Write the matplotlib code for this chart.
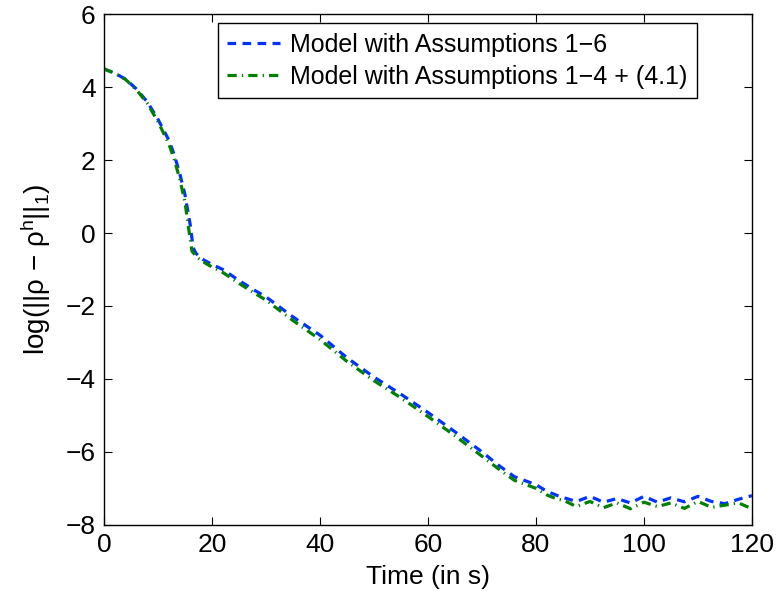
import numpy as np
import matplotlib
matplotlib.use("Agg")
import matplotlib.pyplot as plt

plt.rcParams["font.family"] = ["Liberation Sans", "DejaVu Sans"]
plt.rcParams["mathtext.fontset"] = "custom"
plt.rcParams["mathtext.rm"] = "Liberation Sans"
plt.rcParams["mathtext.it"] = "Liberation Sans"

# -- data --
t_a = [0, 2, 4, 6, 8, 10, 12, 13, 14, 15, 16, 16.5, 17, 18, 20, 22, 25, 28, 30,
       35, 40, 45, 50, 55, 60, 65, 70, 73, 76, 80, 82, 84,
       85, 87.5, 90, 92.5, 95, 97.5, 100, 102.5, 105, 107.5, 110, 112.5, 115, 117.5, 120]
err_a = [4.50, 4.38, 4.22, 3.95, 3.60, 3.12, 2.55, 2.15, 1.65, 1.05, 0.20, -0.40, -0.55,
         -0.70, -0.86, -1.00, -1.30, -1.58, -1.75,
         -2.30, -2.80, -3.42, -3.95, -4.42, -4.92, -5.45, -6.00, -6.36, -6.68, -6.90, -7.08, -7.20,
         -7.25, -7.36, -7.22, -7.38, -7.28, -7.40, -7.22, -7.38, -7.26, -7.37, -7.22, -7.36, -7.42, -7.30, -7.20]

t_b = [0, 2, 4, 6, 8, 10, 12, 13, 14, 15, 15.8, 16.3, 17, 18, 20, 22, 25, 28, 30,
       35, 40, 45, 50, 55, 60, 65, 70, 73, 76, 80, 82, 84,
       85, 87.5, 90, 92.5, 95, 97.5, 100, 102.5, 105, 107.5, 110, 112.5, 115, 117.5, 120]
err_b = [4.50, 4.38, 4.21, 3.93, 3.56, 3.05, 2.45, 2.02, 1.50, 0.85, 0.00, -0.50, -0.62,
         -0.76, -0.93, -1.08, -1.38, -1.66, -1.84,
         -2.40, -2.92, -3.52, -4.05, -4.52, -5.03, -5.56, -6.12, -6.46, -6.78, -7.00, -7.18, -7.30,
         -7.32, -7.50, -7.36, -7.53, -7.40, -7.56, -7.38, -7.50, -7.40, -7.55, -7.36, -7.52, -7.46, -7.40, -7.56]

labels = ["Model with Assumptions 1\u22126", "Model with Assumptions 1\u22124 + (4.1)"]

fig = plt.figure(figsize=(7.76, 5.91), dpi=100)
ax = fig.add_axes([0.134, 0.112, 0.835, 0.864])

ax.plot(t_a, err_a, color="#0033ff", lw=2.3, linestyle=(0, (2.7, 2.0)), label=labels[0])
ax.plot(t_b, err_b, color="#008000", lw=2.3, linestyle=(0, (2.9, 1.6, 0.4, 1.6)), label=labels[1])

ax.set_xlim(0, 120)
ax.set_ylim(-8, 6)
ax.set_xticks(np.arange(0, 121, 20))
ax.set_yticks(np.arange(-8, 7, 2))
ax.set_yticklabels([str(v).replace("-", "\u2212") for v in range(-8, 7, 2)])
ax.tick_params(direction="in", top=True, right=True, labelsize=19, length=6, width=0.8, pad=6)
for s in ax.spines.values():
    s.set_linewidth(1.0)

ax.set_xlabel("Time (in s)", fontsize=19, labelpad=6)
ax.set_ylabel(r"log(||ρ − ρ$^{\mathregular{h}}$||$_{\mathregular{1}}$)", fontsize=20, labelpad=9)

leg = ax.legend(loc="upper right", bbox_to_anchor=(0.915, 0.982), fontsize=18, frameon=True,
                fancybox=False, edgecolor="black", framealpha=1, handlelength=2.1,
                handletextpad=0.4, borderpad=0.38, labelspacing=0.32, borderaxespad=0)
leg.get_frame().set_linewidth(1.0)

fig.savefig("out.png", dpi=100)
